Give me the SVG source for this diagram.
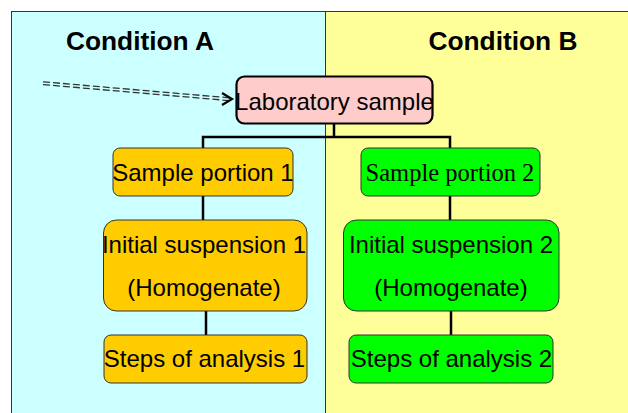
<svg xmlns="http://www.w3.org/2000/svg" width="628" height="413" viewBox="0 0 628 413">
<style>
.panel{stroke:#333;stroke-width:1}
.t{font-family:"Liberation Sans",Arial,sans-serif;font-size:24px;fill:#000;text-anchor:middle}
.serif{font-family:"Liberation Serif","Times New Roman",serif;font-size:24.5px}
.h{font-family:"Liberation Sans",Arial,sans-serif;font-size:26.3px;font-weight:bold;fill:#000;text-anchor:middle}
.orange{fill:#FFCC00;stroke:#333;stroke-width:1}
.green{fill:#00FF00;stroke:#333;stroke-width:1}
.conn{fill:none;stroke:#000;stroke-width:2.5}
.dash{fill:none;stroke:#333;stroke-width:1.3;stroke-dasharray:7,3}
</style>
<rect x="0" y="0" width="628" height="413" fill="#fff"/>
<g id="panelA">
<rect class="panel" x="11.5" y="11.5" width="314" height="410" fill="#CCFFFF"/>
<text class="h" x="140" y="50">Condition A</text>
</g>
<g id="panelB">
<rect class="panel" x="325.5" y="11.5" width="310" height="410" fill="#FFFF99"/>
<text class="h" x="503" y="50">Condition B</text>
</g>
<g id="connectors">
<path class="conn" d="M334,124 V137 M203,148 V137 H450 V148"/>
<path class="conn" d="M203,196 V220 M206,311 V335 M450,196 V220 M451,311 V335"/>
<path class="dash" d="M43,81.8 L229,97.8"/>
<path class="dash" d="M43,84.6 L229,100.6"/>
<path d="M222,93 L232,99 L222,105" fill="none" stroke="#000" stroke-width="2.2"/>
</g>
<g id="lab">
<rect x="236.5" y="76.5" width="196" height="47" rx="8" fill="#FFCCCC" stroke="#000" stroke-width="2.2"/>
<text class="t" x="334.5" y="110">Laboratory sample</text>
</g>
<g id="sp1">
<rect class="orange" x="113" y="148" width="180" height="48" rx="7"/>
<text class="t" x="203" y="181">Sample portion 1</text>
</g>
<g id="is1">
<rect class="orange" x="103.5" y="220" width="203.5" height="91" rx="13"/>
<text class="t" x="204" y="253">Initial suspension 1</text>
<text class="t" x="204" y="296">(Homogenate)</text>
</g>
<g id="sa1">
<rect class="orange" x="104" y="335" width="203" height="48" rx="7"/>
<text class="t" x="204.5" y="367">Steps of analysis 1</text>
</g>
<g id="sp2">
<rect class="green" x="361" y="148" width="179" height="48" rx="7"/>
<text class="t serif" x="450" y="181">Sample portion 2</text>
</g>
<g id="is2">
<rect class="green" x="343.5" y="220" width="215.5" height="91" rx="13"/>
<text class="t" x="451" y="253">Initial suspension 2</text>
<text class="t" x="451" y="296">(Homogenate)</text>
</g>
<g id="sa2">
<rect class="green" x="349" y="335" width="204" height="48" rx="7"/>
<text class="t" x="451.5" y="367">Steps of analysis 2</text>
</g>
</svg>
